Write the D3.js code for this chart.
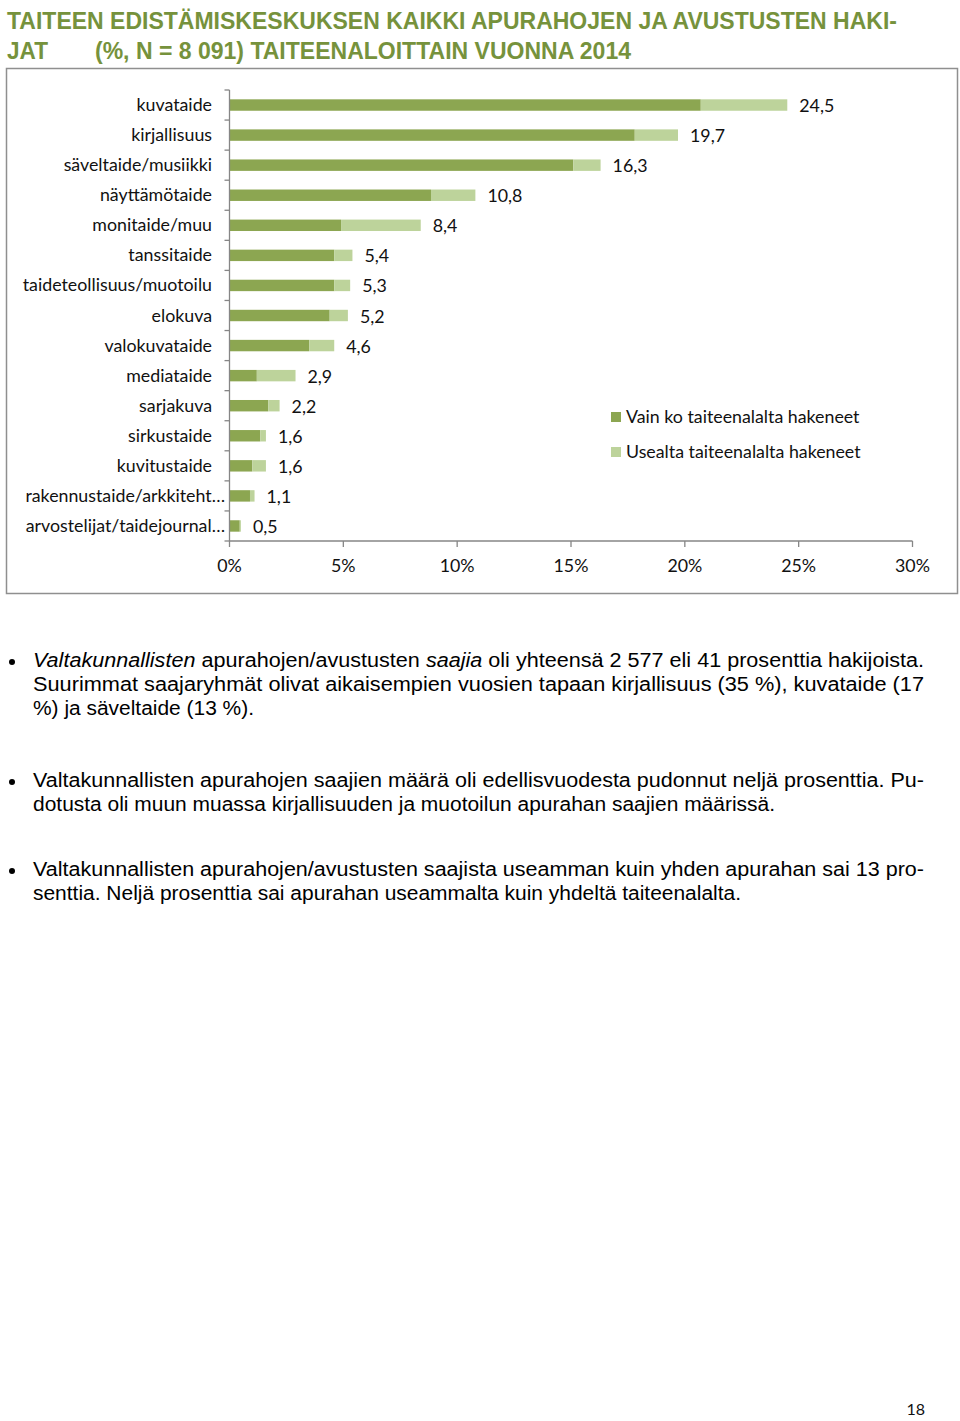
<!DOCTYPE html>
<html>
<head>
<meta charset="utf-8">
<script src="https://cdn.jsdelivr.net/npm/d3@7"></script>
<style>
  html, body { margin: 0; padding: 0; background: #fff; }
  svg { display: block; }
</style>
</head>
<body>
<svg id="page" width="960" height="1421"></svg>
<script>
// ---- DATA ----
const categories = [
  "kuvataide", "kirjallisuus", "säveltaide/musiikki", "näyttämötaide", "monitaide/muu",
  "tanssitaide", "taideteollisuus/muotoilu", "elokuva", "valokuvataide", "mediataide",
  "sarjakuva", "sirkustaide", "kuvitustaide", "rakennustaide/arkkiteht…", "arvostelijat/taidejournal…"
];
const seriesNames = ["Vain ko taiteenalalta hakeneet", "Usealta taiteenalalta hakeneet"];
const singleField = [20.7, 17.8, 15.1, 8.85, 4.9, 4.6, 4.6, 4.4, 3.5, 1.2, 1.7, 1.35, 1.0, 0.9, 0.45];
const multiField  = [3.8, 1.9, 1.2, 1.95, 3.5, 0.8, 0.7, 0.8, 1.1, 1.7, 0.5, 0.25, 0.6, 0.2, 0.05];
const totals = ["24,5", "19,7", "16,3", "10,8", "8,4", "5,4", "5,3", "5,2", "4,6", "2,9", "2,2", "1,6", "1,6", "1,1", "0,5"];
const xTicks = [0, 5, 10, 15, 20, 25, 30];

const titleLines = [
  "TAITEEN EDISTÄMISKESKUKSEN KAIKKI APURAHOJEN JA AVUSTUSTEN HAKI-",
  "(%, N = 8 091) TAITEENALOITTAIN VUONNA 2014"
];

// ---- STYLE ----
const darkGreen = "#8CA651";
const lightGreen = "#BDD39B";
const titleGreen = "#76923C";
const axisGray = "#868686";
const chartFont = "Lato, 'Open Sans', sans-serif";
const chartSize = 17.8;
const bodyFont = "'Liberation Sans', Arial, sans-serif";

const svg = d3.select("#page");

// Title
const tFont = "'Liberation Sans Narrow', 'Liberation Sans', Arial, sans-serif";
svg.append("text").attr("x", 7).attr("y", 29)
  .attr("font-family", tFont).attr("font-weight", "bold").attr("font-size", 23)
  .attr("fill", titleGreen).attr("textLength", 890).attr("lengthAdjust", "spacingAndGlyphs")
  .text(titleLines[0]);
svg.append("text").attr("x", 7).attr("y", 59)
  .attr("font-family", tFont).attr("font-weight", "bold").attr("font-size", 23)
  .attr("fill", titleGreen).attr("textLength", 41).attr("lengthAdjust", "spacingAndGlyphs")
  .text("JAT");
svg.append("text").attr("x", 95).attr("y", 59)
  .attr("font-family", tFont).attr("font-weight", "bold").attr("font-size", 23)
  .attr("fill", titleGreen).attr("textLength", 536).attr("lengthAdjust", "spacingAndGlyphs")
  .text(titleLines[1]);

// Chart frame
svg.append("rect").attr("x", 6.5).attr("y", 68.5).attr("width", 951).attr("height", 525)
  .attr("fill", "none").attr("stroke", "#8f8f8f").attr("stroke-width", 1.5);

// Scales
const x = d3.scaleLinear().domain([0, 30]).range([229.5, 912.5]);
const y = d3.scaleBand().domain(categories).range([90, 541]).paddingInner(0.62).paddingOuter(0.31);

const rows = categories.map((c, i) => ({ cat: c, a: singleField[i], b: multiField[i], label: totals[i] }));

// Bars
const g = svg.append("g");
g.selectAll("rect.a").data(rows).join("rect").attr("class", "a")
  .attr("x", x(0)).attr("y", d => y(d.cat))
  .attr("width", d => x(d.a) - x(0)).attr("height", y.bandwidth())
  .attr("fill", darkGreen);
g.selectAll("rect.b").data(rows).join("rect").attr("class", "b")
  .attr("x", d => x(d.a)).attr("y", d => y(d.cat))
  .attr("width", d => x(d.a + d.b) - x(d.a)).attr("height", y.bandwidth())
  .attr("fill", lightGreen);

// Data labels
g.selectAll("text.val").data(rows).join("text").attr("class", "val")
  .attr("x", d => x(d.a + d.b) + 12).attr("y", d => y(d.cat) + y.bandwidth() / 2 + 7)
  .attr("font-family", chartFont).attr("font-size", chartSize).attr("fill", "#111")
  .text(d => d.label);

// Y axis line + ticks at band boundaries
const step = y.step();
const yTop = y.range()[0], yBot = y.range()[1];
g.append("line").attr("x1", x(0)).attr("x2", x(0)).attr("y1", yTop).attr("y2", yBot)
  .attr("stroke", axisGray).attr("stroke-width", 1.3);
g.selectAll("line.yt").data(d3.range(categories.length + 1)).join("line").attr("class", "yt")
  .attr("x1", x(0) - 5).attr("x2", x(0))
  .attr("y1", i => yTop + i * step).attr("y2", i => yTop + i * step)
  .attr("stroke", axisGray).attr("stroke-width", 1.3);

// Category labels
g.selectAll("text.cat").data(rows).join("text").attr("class", "cat")
  .attr("x", d => d.cat.endsWith("…") ? 225 : 212)
  .attr("y", d => y(d.cat) + y.bandwidth() / 2 + 6)
  .attr("text-anchor", "end")
  .attr("font-family", chartFont).attr("font-size", chartSize).attr("fill", "#111")
  .text(d => d.cat);

// X axis
g.append("line").attr("x1", x(0)).attr("x2", x(30)).attr("y1", yBot).attr("y2", yBot)
  .attr("stroke", axisGray).attr("stroke-width", 1.3);
g.selectAll("line.xt").data(xTicks).join("line").attr("class", "xt")
  .attr("x1", d => x(d)).attr("x2", d => x(d)).attr("y1", yBot).attr("y2", yBot + 6)
  .attr("stroke", axisGray).attr("stroke-width", 1.3);
g.selectAll("text.xl").data(xTicks).join("text").attr("class", "xl")
  .attr("x", d => x(d)).attr("y", 572).attr("text-anchor", "middle")
  .attr("font-family", chartFont).attr("font-size", chartSize).attr("fill", "#111")
  .text(d => d + "%");

// Legend
const legend = g.append("g");
[darkGreen, lightGreen].forEach((col, i) => {
  legend.append("rect").attr("x", 611).attr("y", 412 + i * 35).attr("width", 10).attr("height", 10).attr("fill", col);
  legend.append("text").attr("x", 626).attr("y", 423 + i * 35)
    .attr("font-family", chartFont).attr("font-size", chartSize).attr("fill", "#111")
    .text(seriesNames[i]);
});

// Body text (bullets)
const bullets = [
  { dotY: 662, lines: [
    { y: 667, len: 891, parts: [["Valtakunnallisten", true], [" apurahojen/avustusten ", false], ["saajia", true], [" oli yhteensä 2 577 eli 41 prosenttia hakijoista.", false]] },
    { y: 691, len: 891, parts: [["Suurimmat saajaryhmät olivat aikaisempien vuosien tapaan kirjallisuus (35 %), kuvataide (17", false]] },
    { y: 715, len: 221, parts: [["%) ja säveltaide (13 %).", false]] }
  ]},
  { dotY: 782, lines: [
    { y: 787, len: 891, parts: [["Valtakunnallisten apurahojen saajien määrä oli edellisvuodesta pudonnut neljä prosenttia. Pu-", false]] },
    { y: 811, len: 742, parts: [["dotusta oli muun muassa kirjallisuuden ja muotoilun apurahan saajien määrissä.", false]] }
  ]},
  { dotY: 871, lines: [
    { y: 876, len: 891, parts: [["Valtakunnallisten apurahojen/avustusten saajista useamman kuin yhden apurahan sai 13 pro-", false]] },
    { y: 900, len: 708, parts: [["senttia. Neljä prosenttia sai apurahan useammalta kuin yhdeltä taiteenalalta.", false]] }
  ]}
];
bullets.forEach(b => {
  svg.append("circle").attr("cx", 12).attr("cy", b.dotY).attr("r", 3).attr("fill", "#000");
  b.lines.forEach(l => {
    const t = svg.append("text").attr("x", 33).attr("y", l.y)
      .attr("font-family", bodyFont).attr("font-size", 20).attr("fill", "#000")
      .attr("textLength", l.len).attr("lengthAdjust", "spacingAndGlyphs");
    l.parts.forEach(p => {
      t.append("tspan").attr("font-style", p[1] ? "italic" : "normal").text(p[0]);
    });
  });
});

// Page number
svg.append("text").attr("x", 925).attr("y", 1415).attr("text-anchor", "end")
  .attr("font-family", chartFont).attr("font-size", 16).attr("fill", "#111").text("18");
</script>
</body>
</html>
